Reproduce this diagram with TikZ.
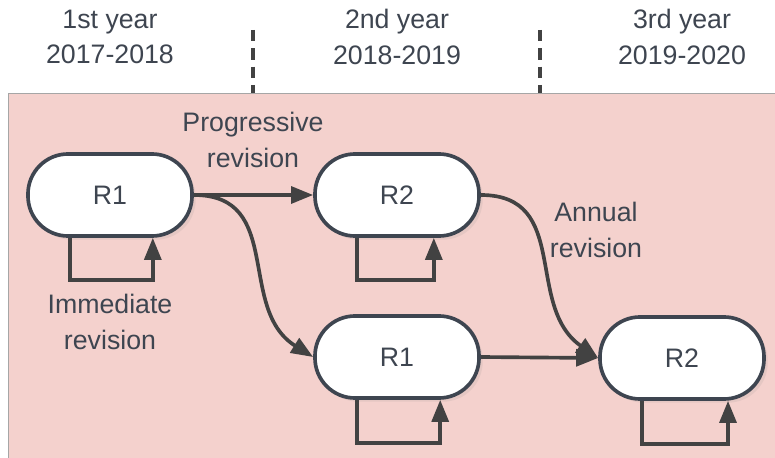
\documentclass[tikz,border=0pt]{standalone}
\usepackage{fontspec}
\setmainfont{Liberation Sans}
\usetikzlibrary{arrows.meta,shadows}

\definecolor{inkgray}{HTML}{3E4550}
\definecolor{linegray}{HTML}{424242}
\definecolor{bgpink}{HTML}{F4D1CD}

\begin{document}
\begin{tikzpicture}[x=0.025cm, y=-0.025cm,
    every node/.style={font=\fontsize{19}{25}\selectfont, text=inkgray},
    revbox/.style={draw=inkgray, line width=2.6pt, fill=white, rounded corners=1cm,
        minimum width=4.1cm, minimum height=2.05cm, drop shadow={opacity=0.12}},
    flow/.style={draw=linegray, line width=2.6pt, -{Triangle[length=0.55cm,width=0.42cm]}},
    divider/.style={draw=linegray, line width=2.4pt, dash pattern=on 8pt off 5pt}]
        \useasboundingbox (0,0) rectangle (775,458);
        % Background and year dividers
        \draw[fill=bgpink, draw=gray!70, line width=0.6pt] (8,93) rectangle (790,470);
        \draw[divider] (253,30) -- (253,93);
        \draw[divider] (540,30) -- (540,93);

        % Year headers
        \node[align=center] (y1) at (110,37) {1st year\\2017-2018};
        \node[align=center] (y2) at (397,37) {2nd year\\2018-2019};
        \node[align=center] (y3) at (682,37) {3rd year\\2019-2020};

        % Revision boxes
        \node[revbox] (r1a) at (110,195) {R1};
        \node[revbox] (r2a) at (397,195) {R2};
        \node[revbox] (r1b) at (397,357) {R1};
        \node[revbox] (r2b) at (682,358) {R2};

        % Labels
        \node[align=center] (lprog) at (253,140) {Progressive\\revision};
        \node[align=center] (lann) at (596,230) {Annual\\revision};
        \node[align=center] (limm) at (110,322) {Immediate\\revision};

        % Transitions
        \draw[flow] (r1a.east) -- (r2a.west);
        \draw[flow] (r1a.east) to[out=0, in=148, looseness=1.15] (r1b.west);
        \draw[flow] (r2a.east) to[out=0, in=145, looseness=1.15] (r2b.west);
        \draw[flow] (r1b.east) -- (r2b.west);

        % Self loops
        \draw[flow] ([xshift=-1cm]r1a.south) -- ++(0,42) -| ([xshift=1.07cm]r1a.south);
        \draw[flow] ([xshift=-1cm]r2a.south) -- ++(0,42) -| ([xshift=0.92cm]r2a.south);
        \draw[flow] ([xshift=-1cm]r1b.south) -- ++(0,43) -| ([xshift=1.08cm]r1b.south);
        \draw[flow] ([xshift=-1cm]r2b.south) -- ++(0,43) -| ([xshift=1.15cm]r2b.south);
    \end{tikzpicture}
\end{document}
